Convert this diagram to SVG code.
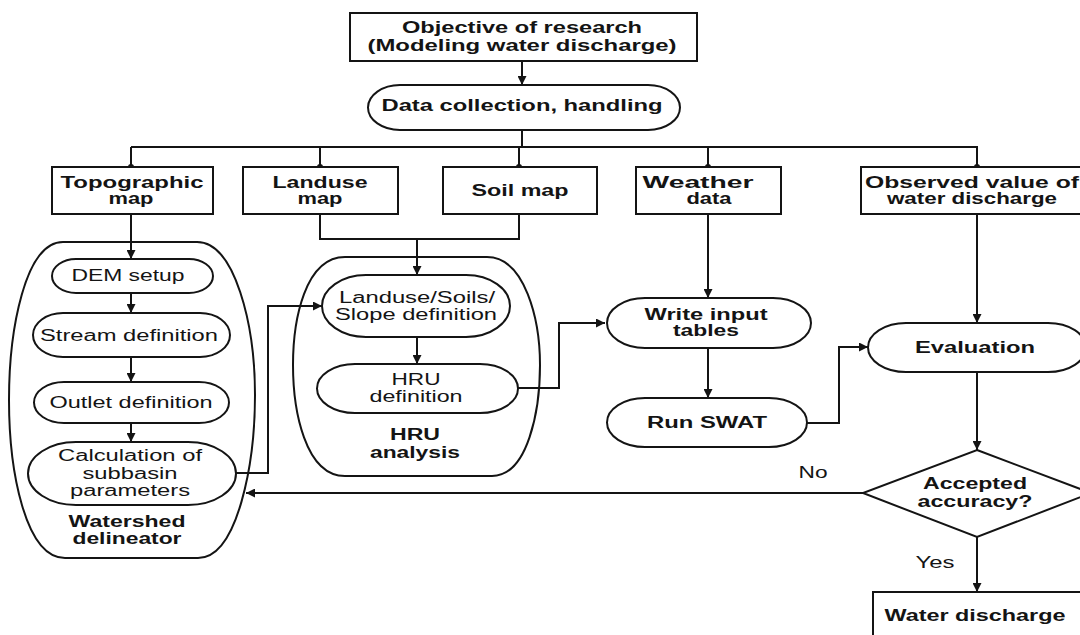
<svg xmlns="http://www.w3.org/2000/svg" width="1080" height="635" viewBox="0 0 1080 635">
<defs>
<marker id="ah" viewBox="0 0 10 10" refX="10" refY="5" markerWidth="9" markerHeight="9" markerUnits="userSpaceOnUse" orient="auto">
<path d="M0,0 L10,5 L0,10 Z" fill="#141414"/>
</marker>
<style>
.s{fill:#fff;stroke:#141414;stroke-width:2}
.c{fill:none;stroke:#141414;stroke-width:2}
.a{fill:none;stroke:#141414;stroke-width:2;marker-end:url(#ah)}
.dot{fill:#141414}
text{font-family:"Liberation Sans",Arial,sans-serif;font-size:16px;fill:#141414;text-anchor:middle}
.b{font-weight:bold}
</style>
</defs>
<rect width="1080" height="635" fill="#fff"/>

<g id="watershed-delineator">
<path class="s" d="M63,242 H197 C235,242 255,325 255,395 C255,462 238,558 198,558 H65 C25,558 9,470 9,400 C9,330 25,242 63,242 Z"/>
<text class="b" x="127" y="527" textLength="117" lengthAdjust="spacingAndGlyphs">Watershed</text>
<text class="b" x="127" y="544" textLength="109" lengthAdjust="spacingAndGlyphs">delineator</text>
</g>

<g id="hru-analysis">
<path class="s" d="M345,257 H487 C525,257 540,320 540,365 C540,410 528,476 492,476 H345 C305,476 293,410 293,365 C293,320 305,257 345,257 Z"/>
<text class="b" x="415" y="440" textLength="50" lengthAdjust="spacingAndGlyphs">HRU</text>
<text class="b" x="415" y="458" textLength="90" lengthAdjust="spacingAndGlyphs">analysis</text>
</g>

<g id="connectors">
<line class="a" x1="522" y1="61" x2="522" y2="85"/>
<polyline class="c" points="522,130 522,147"/>
<line class="c" x1="131" y1="147" x2="978" y2="147"/>
<line class="c" x1="131" y1="147" x2="131" y2="167"/>
<line class="c" x1="320" y1="147" x2="320" y2="167"/>
<line class="c" x1="519" y1="147" x2="519" y2="167"/>
<line class="c" x1="708" y1="147" x2="708" y2="167"/>
<line class="c" x1="977" y1="147" x2="977" y2="167"/>
<circle class="dot" cx="131" cy="167" r="3"/>
<circle class="dot" cx="320" cy="167" r="3"/>
<circle class="dot" cx="519" cy="167" r="3"/>
<circle class="dot" cx="708" cy="167" r="3"/>
<circle class="dot" cx="977" cy="167" r="3"/>
<line class="a" x1="131" y1="214" x2="131" y2="259"/>
<line class="a" x1="131" y1="293" x2="131" y2="313"/>
<line class="a" x1="131" y1="357" x2="131" y2="382"/>
<line class="a" x1="131" y1="423" x2="131" y2="442"/>
<polyline class="c" points="320,214 320,239 519,239 519,214"/>
<line class="a" x1="417" y1="239" x2="417" y2="275"/>
<polyline class="a" points="236,473 268,473 268,306 322,306"/>
<line class="a" x1="417" y1="337" x2="417" y2="364"/>
<polyline class="a" points="518,388 559,388 559,323 605,323"/>
<line class="a" x1="708" y1="214" x2="708" y2="298"/>
<line class="a" x1="708" y1="348" x2="708" y2="398"/>
<polyline class="a" points="807,423 839,423 839,347 868,347"/>
<line class="a" x1="977" y1="214" x2="977" y2="323"/>
<line class="a" x1="977" y1="372" x2="977" y2="450"/>
<line class="a" x1="977" y1="537" x2="977" y2="592"/>
<line class="a" x1="863" y1="493" x2="246" y2="493"/>
</g>

<g id="objective">
<rect class="s" x="350" y="13" width="347" height="48"/>
<text class="b" x="522" y="33" textLength="240" lengthAdjust="spacingAndGlyphs">Objective of research</text>
<text class="b" x="522" y="51" textLength="309" lengthAdjust="spacingAndGlyphs">(Modeling water discharge)</text>
</g>

<g id="data-collection">
<rect class="s" x="368" y="85" width="312" height="45" rx="32" ry="22.5"/>
<text class="b" x="522" y="111" textLength="281" lengthAdjust="spacingAndGlyphs">Data collection, handling</text>
</g>

<g id="topographic">
<rect class="s" x="52" y="167" width="161" height="47"/>
<text class="b" x="132" y="188" textLength="143" lengthAdjust="spacingAndGlyphs">Topographic</text>
<text class="b" x="131" y="204" textLength="45" lengthAdjust="spacingAndGlyphs">map</text>
</g>

<g id="landuse">
<rect class="s" x="243" y="167" width="155" height="47"/>
<text class="b" x="320" y="188" textLength="95" lengthAdjust="spacingAndGlyphs">Landuse</text>
<text class="b" x="320" y="204" textLength="45" lengthAdjust="spacingAndGlyphs">map</text>
</g>

<g id="soil">
<rect class="s" x="443" y="167" width="154" height="47"/>
<text class="b" x="520" y="196" textLength="97" lengthAdjust="spacingAndGlyphs">Soil map</text>
</g>

<g id="weather">
<rect class="s" x="636" y="167" width="145" height="47"/>
<text class="b" x="698" y="188" textLength="111" lengthAdjust="spacingAndGlyphs">Weather</text>
<text class="b" x="709" y="204" textLength="45" lengthAdjust="spacingAndGlyphs">data</text>
</g>

<g id="observed">
<rect class="s" x="861" y="167" width="232" height="47"/>
<text class="b" x="972" y="188" textLength="214" lengthAdjust="spacingAndGlyphs">Observed value of</text>
<text class="b" x="972" y="204" textLength="170" lengthAdjust="spacingAndGlyphs">water discharge</text>
</g>

<g id="dem-setup">
<rect class="s" x="52" y="259" width="161" height="34" rx="24" ry="17"/>
<text x="128" y="281" textLength="113" lengthAdjust="spacingAndGlyphs">DEM setup</text>
</g>

<g id="stream-definition">
<rect class="s" x="33" y="313" width="197" height="44" rx="30" ry="22"/>
<text x="129" y="341" textLength="178" lengthAdjust="spacingAndGlyphs">Stream definition</text>
</g>

<g id="outlet-definition">
<rect class="s" x="34" y="382" width="195" height="41" rx="30" ry="20.5"/>
<text x="131" y="408" textLength="163" lengthAdjust="spacingAndGlyphs">Outlet definition</text>
</g>

<g id="calculation">
<rect class="s" x="28" y="442" width="208" height="63" rx="48" ry="31.5"/>
<text x="130" y="461" textLength="144" lengthAdjust="spacingAndGlyphs">Calculation of</text>
<text x="130" y="479" textLength="95" lengthAdjust="spacingAndGlyphs">subbasin</text>
<text x="130" y="496" textLength="120" lengthAdjust="spacingAndGlyphs">parameters</text>
</g>

<g id="landuse-soils-slope">
<rect class="s" x="322" y="275" width="188" height="62" rx="44" ry="31"/>
<text x="417" y="303" textLength="156" lengthAdjust="spacingAndGlyphs">Landuse/Soils/</text>
<text x="416" y="320" textLength="162" lengthAdjust="spacingAndGlyphs">Slope definition</text>
</g>

<g id="hru-definition">
<rect class="s" x="317" y="364" width="201" height="49" rx="38" ry="24.5"/>
<text x="416" y="385" textLength="49" lengthAdjust="spacingAndGlyphs">HRU</text>
<text x="416" y="402" textLength="93" lengthAdjust="spacingAndGlyphs">definition</text>
</g>

<g id="write-input">
<rect class="s" x="607" y="298" width="204" height="50" rx="38" ry="25"/>
<text class="b" x="706" y="320" textLength="123" lengthAdjust="spacingAndGlyphs">Write input</text>
<text class="b" x="706" y="336" textLength="66" lengthAdjust="spacingAndGlyphs">tables</text>
</g>

<g id="run-swat">
<rect class="s" x="607" y="398" width="200" height="49" rx="38" ry="24.5"/>
<text class="b" x="707" y="428" textLength="120" lengthAdjust="spacingAndGlyphs">Run SWAT</text>
</g>

<g id="evaluation">
<rect class="s" x="868" y="323" width="218" height="49" rx="38" ry="24.5"/>
<text class="b" x="975" y="353" textLength="120" lengthAdjust="spacingAndGlyphs">Evaluation</text>
</g>

<g id="accepted-accuracy">
<polygon class="s" points="977,450 1091,493 977,537 863,493"/>
<text class="b" x="975" y="489" textLength="104" lengthAdjust="spacingAndGlyphs">Accepted</text>
<text class="b" x="975" y="507" textLength="115" lengthAdjust="spacingAndGlyphs">accuracy?</text>
</g>

<g id="labels">
<text x="813" y="478" textLength="29" lengthAdjust="spacingAndGlyphs">No</text>
<text x="935" y="568" textLength="39" lengthAdjust="spacingAndGlyphs">Yes</text>
</g>

<g id="water-discharge">
<rect class="s" x="873" y="592" width="208" height="60"/>
<text class="b" x="975" y="621" textLength="181" lengthAdjust="spacingAndGlyphs">Water discharge</text>
</g>
</svg>
